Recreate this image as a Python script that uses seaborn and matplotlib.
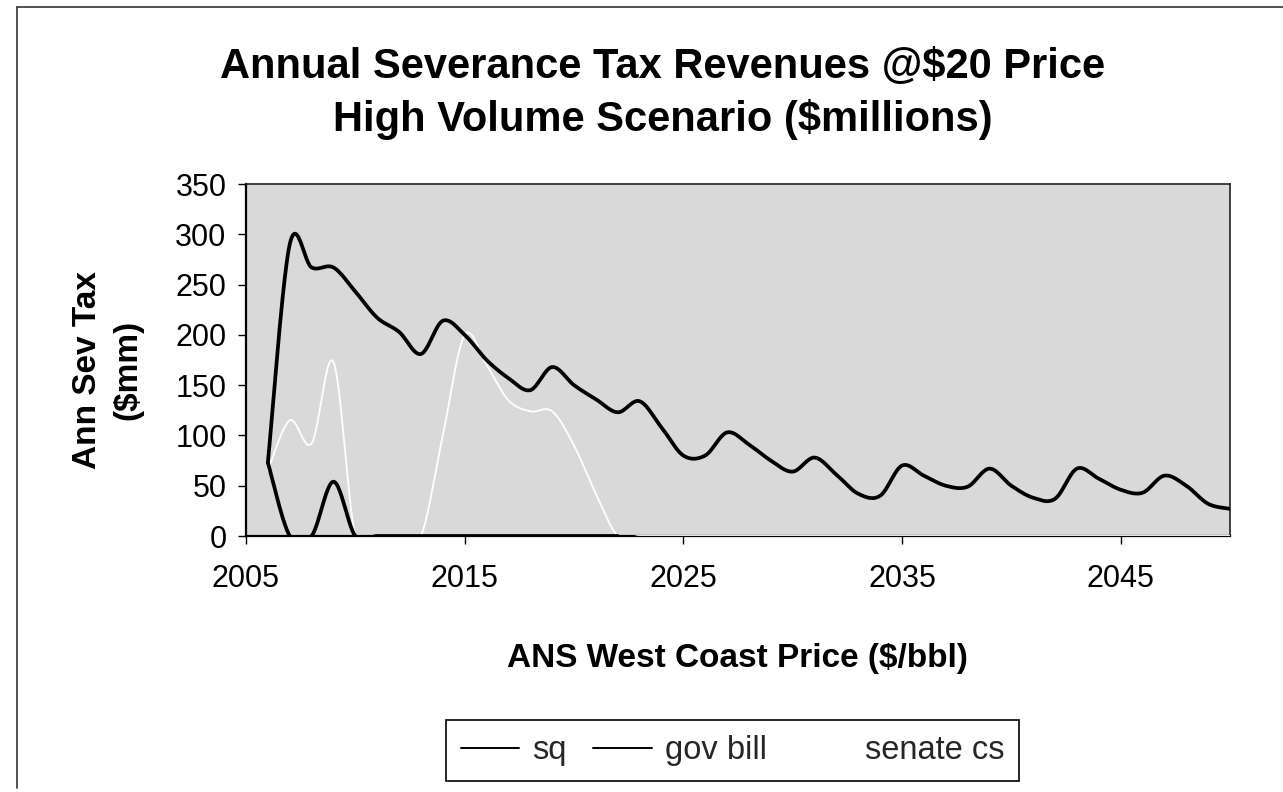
import numpy as np
import pandas as pd
import matplotlib
matplotlib.use("Agg")
import matplotlib.pyplot as plt
import seaborn as sns
from matplotlib.lines import Line2D

# Annual severance tax, $ millions, by production year
years = list(range(2006, 2051))

sq = [73, 290, 267, 267, 243, 217, 203, 181, 214, 200,
      175, 157, 145, 168, 150, 136, 123, 134, 108, 80,
      80, 103, 91, 75, 64, 78, 61, 42, 40, 70,
      60, 50, 49, 67, 50, 38, 37, 67, 57, 46,
      43, 60, 50, 32, 27]

gov_bill = [73, 0, 0, 54, 0, 0, 0, 0, 0, 0,
            0, 0, 0, 0, 0, 0, 0] + [np.nan] * 28

senate_cs = [65, 115, 92, 173, 0, 0, 0, 0, 100, 200,
             170, 135, 124, 124, 90, 42] + [0] * 29

series_names = ["sq", "gov bill", "senate cs"]
x_ticks = [2005, 2015, 2025, 2035, 2045]
y_ticks = [0, 50, 100, 150, 200, 250, 300, 350]


def smoothed(xv, yv, n=24):
    """Bezier smoothing through the points (spreadsheet-style smoothed line)."""
    xv = np.asarray(xv, float)
    yv = np.asarray(yv, float)
    idx = np.flatnonzero(np.isfinite(yv))
    runs = np.split(idx, np.flatnonzero(np.diff(idx) > 1) + 1)
    out = []
    for r in runs:
        if len(r) < 2:
            continue
        P = np.column_stack([xv[r], yv[r]])
        Pp = np.vstack([P[0], P, P[-1]])
        t = np.linspace(0, 1, n, endpoint=False)[:, None]
        pieces = []
        for i in range(1, len(Pp) - 2):
            p0, p1, p2, p3 = Pp[i - 1], Pp[i], Pp[i + 1], Pp[i + 2]
            c1 = p1 + (p2 - p0) / 6.0
            c2 = p2 - (p3 - p1) / 6.0
            b = ((1 - t) ** 3) * p1 + 3 * ((1 - t) ** 2) * t * c1 \
                + 3 * (1 - t) * (t ** 2) * c2 + (t ** 3) * p2
            pieces.append(b)
        pieces.append(P[-1][None, :])
        S = np.vstack(pieces)
        out.append(pd.DataFrame({"year": S[:, 0], "value": S[:, 1]}))
    return out


sns.set_theme(style="white")
plt.rcParams["font.family"] = ["Liberation Sans", "DejaVu Sans"]

W, H = 1283, 792
fig = plt.figure(figsize=(W / 100, H / 100), dpi=100)
fig.patch.set_facecolor("white")

left, right, top, bottom = 246, 1230, 184, 536
ax = fig.add_axes([left / W, 1 - bottom / H, (right - left) / W, (bottom - top) / H])
ax.set_facecolor("#d9d9d9")

styles = {
    "senate cs": dict(color="white", lw=1.3, z=2.6),
    "gov bill": dict(color="black", lw=2.7, z=2.7),
    "sq": dict(color="black", lw=2.7, z=2.8),
}
data = {"sq": sq, "gov bill": gov_bill, "senate cs": senate_cs}

for name in ["senate cs", "gov bill", "sq"]:
    st = styles[name]
    for seg in smoothed(years, data[name]):
        sns.lineplot(data=seg, x="year", y="value", ax=ax, color=st["color"],
                     linewidth=st["lw"], sort=False, estimator=None,
                     zorder=st["z"], legend=False)

ax.set_xlim(2005, 2050)
ax.set_ylim(0, 350)
ax.set_xticks(x_ticks)
ax.set_yticks(y_ticks)
ax.set_xlabel("")
ax.set_ylabel("")
ax.tick_params(axis="both", which="major", bottom=True, left=True,
               direction="out", length=6, width=1.0, color="black",
               labelsize=22, labelcolor="black")
ax.tick_params(axis="x", pad=14)
ax.tick_params(axis="y", pad=8)

for side in ["left", "bottom"]:
    ax.spines[side].set_color("black")
    ax.spines[side].set_linewidth(1.6)
for side in ["top", "right"]:
    ax.spines[side].set_color("#222222")
    ax.spines[side].set_linewidth(1.2)

# Titles and axis labels
fig.text(663 / W, 1 - 93.5 / H,
         "Annual Severance Tax Revenues @$20 Price\nHigh Volume Scenario ($millions)",
         ha="center", va="center", fontsize=30, fontweight="bold",
         linespacing=1.35, color="black")
fig.text(737 / W, 1 - 658 / H, "ANS West Coast Price ($/bbl)",
         ha="center", va="center", fontsize=24, fontweight="bold", color="black")
fig.text(108 / W, 1 - 370 / H, "Ann Sev Tax\n($mm)", rotation=90,
         ha="center", va="center", fontsize=24, fontweight="bold",
         linespacing=1.4, multialignment="center", color="black")

# Legend
handles = [Line2D([], [], color="black", lw=1.4),
           Line2D([], [], color="black", lw=1.4),
           Line2D([], [], color="white", lw=1.4)]
leg = fig.legend(handles, series_names, loc="center",
                 bbox_to_anchor=(732.5 / W, 1 - 750.5 / H), ncol=3,
                 fontsize=23.5, frameon=True, fancybox=False, shadow=False,
                 edgecolor="black", framealpha=1, facecolor="white",
                 handlelength=1.8, handletextpad=0.4, columnspacing=0.8,
                 borderpad=0.45)
leg.get_frame().set_linewidth(1.2)

# Outer chart border
fig.add_artist(Line2D([17 / W, 17 / W], [1 - 7 / H, 1 - 788 / H],
                      transform=fig.transFigure, color="#333333", lw=1.2))
fig.add_artist(Line2D([17 / W, 1.0], [1 - 7 / H, 1 - 7 / H],
                      transform=fig.transFigure, color="#333333", lw=1.2))

fig.savefig("out.png", dpi=100)
